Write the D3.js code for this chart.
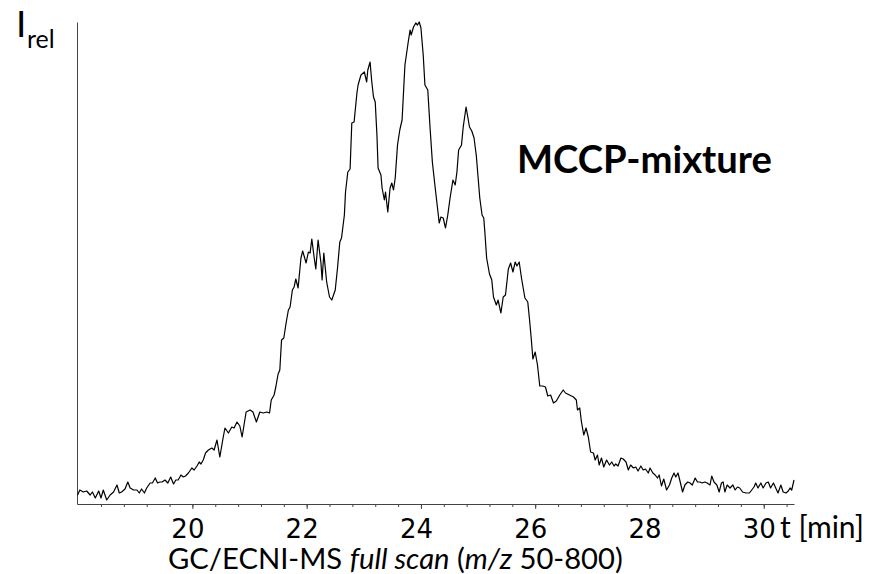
<!DOCTYPE html>
<html lang="en">
<head>
    <meta charset="UTF-8">
    <title>MCCP-mixture GC/ECNI-MS</title>
    <style>
        body { margin: 0; background: #fff; }
    </style>
</head>

<body>
    <svg id="chart" width="869" height="574"></svg>
</body>

<script src="https://cdn.jsdelivr.net/npm/d3@7/dist/d3.min.js"></script>

<script>
    // retention time [min]
    let times = [
        17.99, 18.03, 18.09, 18.15, 18.21, 18.25, 18.30, 18.36, 18.40, 18.44, 18.50, 18.56, 18.62, 18.68, 18.72,
        18.76, 18.82, 18.87, 18.91, 18.97, 19.03, 19.07, 19.11, 19.16, 19.20, 19.26, 19.30, 19.35, 19.39, 19.43,
        19.47, 19.52, 19.57, 19.62, 19.67, 19.71, 19.75, 19.80, 19.84, 19.88, 19.93, 19.99, 20.03, 20.08, 20.12,
        20.15, 20.19, 20.23, 20.28, 20.34, 20.38, 20.43, 20.48, 20.54, 20.57, 20.63, 20.69, 20.73, 20.78, 20.83,
        20.87, 20.94, 21.01, 21.06, 21.12, 21.18, 21.24, 21.30, 21.35, 21.38, 21.43, 21.46, 21.50, 21.53, 21.56,
        21.60, 21.64, 21.68, 21.71, 21.75, 21.78, 21.81, 21.85, 21.90, 21.93, 21.99, 22.03, 22.06, 22.09, 22.13,
        22.16, 22.20, 22.25, 22.27, 22.30, 22.35, 22.40, 22.44, 22.50, 22.54, 22.58, 22.61, 22.66, 22.68, 22.72,
        22.76, 22.79, 22.83, 22.88, 22.90, 22.95, 23.01, 23.05, 23.07, 23.11, 23.14, 23.17, 23.20, 23.23, 23.25,
        23.30, 23.32, 23.36, 23.38, 23.42, 23.46, 23.49, 23.52, 23.55, 23.59, 23.63, 23.67, 23.72, 23.77, 23.81,
        23.83, 23.87, 23.91, 23.94, 23.97, 24.00, 24.04, 24.07, 24.12, 24.16, 24.20, 24.25, 24.29, 24.32, 24.35,
        24.39, 24.43, 24.47, 24.51, 24.56, 24.60, 24.63, 24.66, 24.71, 24.74, 24.79, 24.82, 24.85, 24.89, 24.93,
        24.97, 25.00, 25.03, 25.07, 25.10, 25.12, 25.15, 25.20, 25.24, 25.27, 25.32, 25.35, 25.40, 25.44, 25.48,
        25.53, 25.57, 25.61, 25.65, 25.68, 25.72, 25.76, 25.82, 25.87, 25.90, 25.93, 25.96, 26.00, 26.04, 26.08,
        26.13, 26.18, 26.22, 26.27, 26.32, 26.37, 26.43, 26.49, 26.53, 26.60, 26.67, 26.72, 26.74, 26.78, 26.81,
        26.85, 26.89, 26.93, 26.97, 27.02, 27.05, 27.09, 27.12, 27.16, 27.20, 27.25, 27.30, 27.34, 27.38, 27.41,
        27.45, 27.50, 27.54, 27.59, 27.63, 27.67, 27.72, 27.76, 27.80, 27.85, 27.89, 27.93, 27.98, 28.01, 28.06,
        28.10, 28.14, 28.17, 28.21, 28.25, 28.30, 28.35, 28.39, 28.43, 28.46, 28.50, 28.53, 28.58, 28.62, 28.67,
        28.71, 28.75, 28.80, 28.84, 28.88, 28.92, 28.97, 29.01, 29.06, 29.09, 29.13, 29.18, 29.22, 29.26, 29.29,
        29.32, 29.36, 29.41, 29.46, 29.50, 29.54, 29.58, 29.63, 29.69, 29.75, 29.79, 29.83, 29.86, 29.90, 29.95,
        29.99, 30.04, 30.08, 30.12, 30.17, 30.21, 30.25, 30.30, 30.34, 30.39, 30.43, 30.46, 30.49, 30.53
    ]

    // relative intensity (arbitrary units)
    let intensity = [
        9, 14, 12, 13, 9, 12, 6, 13, 6, 14, 4, 9, 12, 19, 11,
        12, 15, 22, 16, 14, 14, 11, 15, 11, 16, 21, 21, 26, 21, 22,
        22, 24, 21, 27, 20, 24, 24, 29, 27, 28, 31, 36, 34, 38, 42,
        40, 44, 51, 54, 56, 54, 64, 47, 67, 76, 71, 77, 76, 82, 78,
        67, 92, 94, 92, 82, 92, 91, 92, 91, 104, 109, 117, 130, 134, 164,
        166, 181, 194, 197, 214, 217, 225, 216, 246, 253, 241, 252, 251, 265, 247,
        235, 264, 241, 224, 251, 222, 207, 204, 214, 236, 262, 266, 289, 312, 332,
        335, 381, 382, 411, 419, 429, 432, 422, 434, 442, 422, 407, 402, 369, 336,
        329, 316, 304, 312, 292, 316, 321, 314, 326, 359, 374, 384, 439, 459, 474,
        469, 477, 481, 479, 482, 476, 449, 419, 414, 376, 342, 316, 296, 281, 287,
        286, 276, 289, 306, 324, 319, 332, 354, 359, 377, 397, 387, 377, 373, 366,
        348, 327, 306, 289, 286, 271, 246, 230, 224, 207, 199, 204, 191, 207, 209,
        235, 241, 232, 242, 238, 242, 226, 206, 202, 185, 166, 145, 152, 139, 118,
        118, 117, 108, 109, 101, 103, 109, 114, 111, 109, 107, 104, 94, 96, 82,
        69, 76, 67, 52, 51, 44, 49, 39, 46, 37, 44, 39, 42, 38, 40,
        38, 46, 45, 42, 34, 39, 36, 37, 33, 38, 34, 35, 31, 36, 31,
        29, 26, 29, 18, 25, 14, 19, 26, 31, 27, 31, 24, 12, 19, 22,
        21, 19, 26, 22, 22, 21, 22, 21, 19, 28, 22, 19, 12, 21, 22,
        12, 19, 16, 19, 14, 17, 16, 12, 11, 11, 14, 17, 21, 16, 21,
        16, 21, 22, 16, 21, 16, 11, 19, 12, 11, 13, 16, 14, 24
    ]

    let majorTicks = [20, 22, 24, 26, 28, 30]
    let minorTicks = d3.range(18.4, 30.41, 0.4)

    let svg = d3.select("#chart")

    let xScale = d3.scaleLinear().domain([17.98, 30.53]).range([77, 794])
    let yScale = d3.scaleLinear().domain([0, 482]).range([504, 22])

    let points = times.map((t, i) => ({ t: t, v: intensity[i] }))

    // axes
    let minorAxis = d3.axisBottom(xScale)
        .tickValues(minorTicks)
        .tickFormat("")
        .tickSize(3)
        .tickSizeOuter(0)

    let majorAxis = d3.axisBottom(xScale)
        .tickValues(majorTicks)
        .tickSize(5)
        .tickSizeOuter(0)

    svg.append("g")
        .attr("transform", "translate(0,504)")
        .call(minorAxis)
        .call(g => g.selectAll("line, path").attr("stroke", "#444"))

    let xg = svg.append("g")
        .attr("transform", "translate(0,504)")
        .call(majorAxis)
    xg.select(".domain").remove()
    xg.selectAll("line").attr("stroke", "#444")
    xg.selectAll("text")
        .attr("y", 34)
        .attr("dy", 0)
        .attr("dx", -5)
        .attr("fill", "#000")
        .style("font-family", "'DejaVu Sans', sans-serif")
        .style("font-size", "26px")

    svg.append("g")
        .attr("transform", "translate(77,0)")
        .call(d3.axisLeft(yScale).tickValues([]).tickSizeOuter(0))
        .call(g => g.select(".domain").attr("stroke", "#444"))

    // chromatogram trace
    let line = d3.line()
        .x(d => xScale(d.t))
        .y(d => yScale(d.v))

    svg.append("path")
        .datum(points)
        .attr("d", line)
        .attr("fill", "none")
        .attr("stroke", "#000")
        .attr("stroke-width", 1.2)
        .attr("stroke-linejoin", "round")

    // texts
    let labelFont = "Lato, 'Open Sans', sans-serif"

    function fit(sel, width) {
        let w = sel.node().getComputedTextLength()
        let size = parseFloat(sel.style("font-size"))
        sel.style("font-size", (size * width / w) + "px")
    }

    let ylab = svg.append("text")
        .attr("x", 16).attr("y", 37)
        .style("font-family", labelFont)
        .style("font-size", "37px")
    ylab.append("tspan").text("I")
    ylab.append("tspan")
        .attr("x", 27).attr("y", 48)
        .style("font-size", "25px")
        .text("rel")

    let title = svg.append("text")
        .attr("x", 517).attr("y", 173)
        .style("font-family", labelFont)
        .style("font-weight", "bold")
        .style("font-size", "35px")
        .text("MCCP-mixture")
    fit(title, 255)

    let unit = svg.append("text")
        .attr("x", 780).attr("y", 538)
        .style("font-family", labelFont)
        .style("font-size", "27px")
        .text("t [min]")
    fit(unit, 84)

    let xlab = svg.append("text")
        .attr("x", 168).attr("y", 569)
        .style("font-family", labelFont)
        .style("font-size", "27px")
    xlab.append("tspan").text("GC/ECNI-MS ")
    xlab.append("tspan").style("font-style", "italic").text("full scan")
    xlab.append("tspan").text(" (")
    xlab.append("tspan").style("font-style", "italic").text("m/z")
    xlab.append("tspan").text(" 50-800)")
    fit(xlab, 455)
</script>

</html>
